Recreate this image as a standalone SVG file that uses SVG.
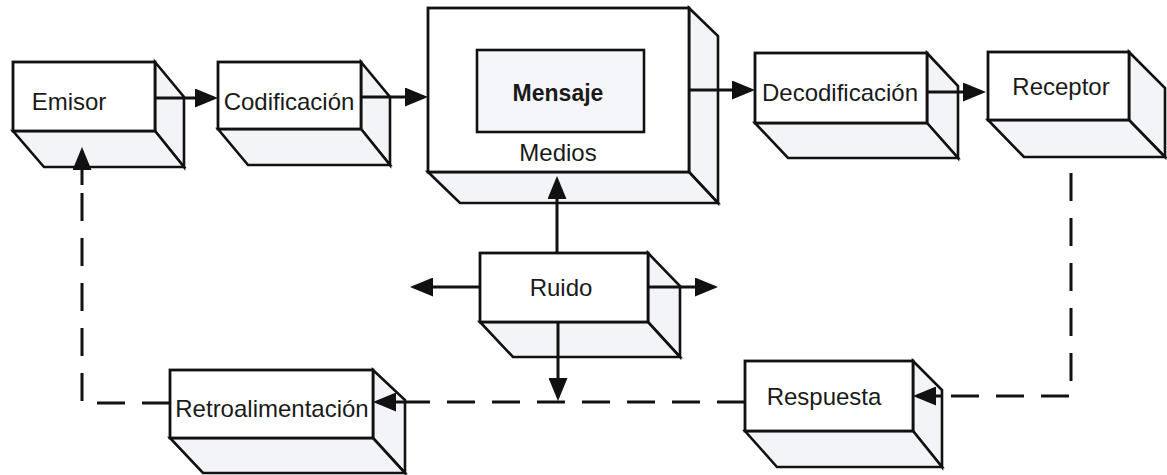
<svg xmlns="http://www.w3.org/2000/svg" width="1167" height="475" viewBox="0 0 1167 475">
<style>
.face{fill:#f2f4f8;stroke:#111;stroke-width:2.6;stroke-linejoin:miter}
.front{fill:#ffffff;stroke:#111;stroke-width:2.8}
.inner{fill:#f4f6f9;stroke:#111;stroke-width:2.6}
.lbl{font-family:"Liberation Sans",Arial,sans-serif;font-size:24px;fill:#1a1a1a;text-anchor:middle;dominant-baseline:central}
.bold{font-weight:bold;font-size:23px}
.ln{stroke:#111;stroke-width:3;fill:none}
.dash{stroke:#111;stroke-width:3;fill:none;stroke-dasharray:28 17}
</style>
<defs>
<marker id="ah" markerUnits="userSpaceOnUse" markerWidth="23" markerHeight="19" refX="19" refY="9.5" orient="auto">
<path d="M0,0 L23,9.5 L0,19 Z" fill="#111"/>
</marker>
</defs>
<rect width="1167" height="475" fill="#ffffff"/>

<g id="emisor">
<polygon class="face" points="155,62 184,97 184,167 155,131"/>
<polygon class="face" points="13,131 155,131 184,167 44,167"/>
<rect class="front" x="13" y="62" width="142" height="69"/>
<text class="lbl" x="69" y="101">Emisor</text>
</g>

<g id="codificacion">
<polygon class="face" points="361,62 390,97 390,165 361,129"/>
<polygon class="face" points="218,129 361,129 390,165 248,165"/>
<rect class="front" x="218" y="62" width="143" height="67"/>
<text class="lbl" x="289" y="101">Codificación</text>
</g>

<g id="medios">
<polygon class="face" points="689,8 718,36 718,203 689,172"/>
<polygon class="face" points="428,172 689,172 718,203 460,203"/>
<rect class="front" x="428" y="8" width="261" height="164"/>
<rect class="inner" x="477" y="50" width="167" height="82"/>
<text class="lbl bold" x="558" y="93">Mensaje</text>
<text class="lbl" x="558" y="152">Medios</text>
</g>

<g id="decodificacion">
<polygon class="face" points="927,53 958,86 958,158 927,123"/>
<polygon class="face" points="755,123 927,123 958,158 788,158"/>
<rect class="front" x="755" y="53" width="172" height="70"/>
<text class="lbl" x="840" y="92">Decodificación</text>
</g>

<g id="receptor">
<polygon class="face" points="1129,52 1165,88 1165,157 1129,120"/>
<polygon class="face" points="988,120 1129,120 1165,157 1024,157"/>
<rect class="front" x="988" y="52" width="141" height="68"/>
<text class="lbl" x="1061" y="86">Receptor</text>
</g>

<g id="ruido">
<polygon class="face" points="648,253 680,286 680,357 648,322"/>
<polygon class="face" points="480,322 648,322 680,357 513,357"/>
<rect class="front" x="480" y="253" width="168" height="69"/>
<text class="lbl" x="561" y="287">Ruido</text>
</g>

<g id="retroalimentacion">
<polygon class="face" points="373,370 405,400 405,473 373,438"/>
<polygon class="face" points="170,438 373,438 405,473 203,473"/>
<rect class="front" x="170" y="370" width="203" height="68"/>
<text class="lbl" x="272" y="408">Retroalimentación</text>
</g>

<g id="respuesta">
<polygon class="face" points="913,361 942,390 942,467 913,431"/>
<polygon class="face" points="745,431 913,431 942,467 777,467"/>
<rect class="front" x="745" y="361" width="168" height="70"/>
<text class="lbl" x="824" y="396">Respuesta</text>
</g>

<g id="connectors">
<line class="ln" x1="155" y1="98" x2="214" y2="98" marker-end="url(#ah)"/>
<line class="ln" x1="361" y1="97" x2="424" y2="97" marker-end="url(#ah)"/>
<line class="ln" x1="689" y1="90" x2="751" y2="90" marker-end="url(#ah)"/>
<line class="ln" x1="927" y1="92" x2="982" y2="92" marker-end="url(#ah)"/>
<line class="ln" x1="557" y1="253" x2="557" y2="180" marker-end="url(#ah)"/>
<line class="ln" x1="480" y1="287" x2="414" y2="287" marker-end="url(#ah)"/>
<line class="ln" x1="648" y1="287" x2="714" y2="287" marker-end="url(#ah)"/>
<line class="ln" x1="558" y1="322" x2="558" y2="397" marker-end="url(#ah)"/>
<path class="dash" d="M1071,173 L1071,396 L942,396"/>
<line class="ln" x1="942" y1="396" x2="917" y2="396" marker-end="url(#ah)"/>
<path class="dash" d="M745,402 L405,402"/>
<line class="ln" x1="405" y1="402" x2="377" y2="402" marker-end="url(#ah)"/>
<path class="dash" d="M170,403 L82,403 L82,185"/>
<line class="ln" x1="82" y1="185" x2="82" y2="151" marker-end="url(#ah)"/>
</g>
</svg>
